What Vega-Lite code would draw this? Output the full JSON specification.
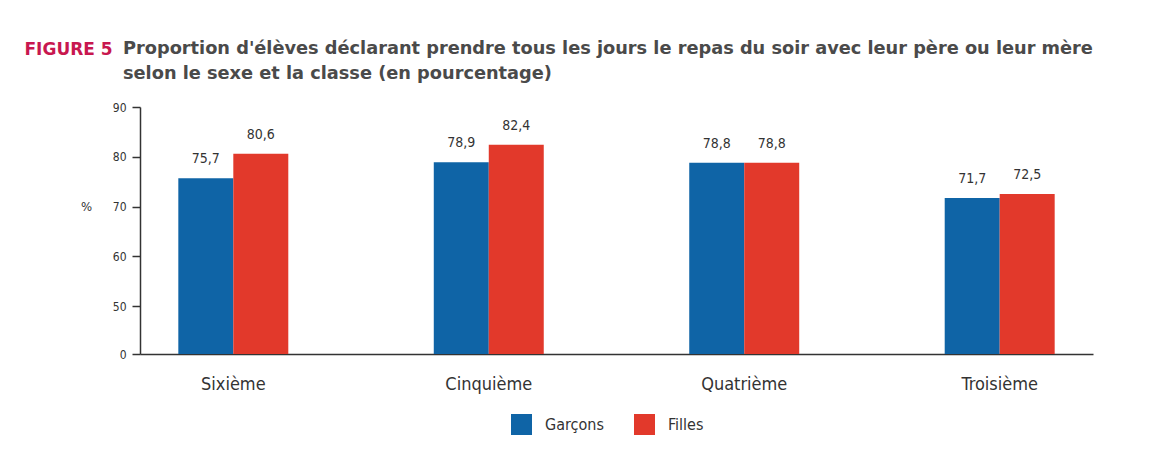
{
  "$schema": "https://vega.github.io/schema/vega-lite/v6.json",
  "width": 953,
  "height": 247,
  "autosize": {"type": "none"},
  "padding": {"left": 140, "top": 107, "right": 58, "bottom": 101},
  "background": "white",
  "title": {
    "text": ["Proportion d'élèves déclarant prendre tous les jours le repas du soir avec leur père ou leur mère", "selon le sexe et la classe (en pourcentage)"],
    "anchor": "start",
    "frame": "group",
    "dx": -17,
    "dy": 63,
    "font": "DejaVu Sans",
    "fontSize": 17.75,
    "fontWeight": "bold",
    "color": "#4a4a4a",
    "lineHeight": 25,
    "baseline": "top",
    "offset": 20
  },
  "config": {
    "locale": {"number": {"decimal": ",", "thousands": " ", "grouping": [3], "currency": ["", " €"]}},
    "view": {"stroke": null},
    "font": "DejaVu Sans Condensed"
  },
  "data": {
    "values": [
      {"classe": "Sixième", "sexe": "Garçons", "pct": 75.7},
      {"classe": "Sixième", "sexe": "Filles", "pct": 80.6},
      {"classe": "Cinquième", "sexe": "Garçons", "pct": 78.9},
      {"classe": "Cinquième", "sexe": "Filles", "pct": 82.4},
      {"classe": "Quatrième", "sexe": "Garçons", "pct": 78.8},
      {"classe": "Quatrième", "sexe": "Filles", "pct": 78.8},
      {"classe": "Troisième", "sexe": "Garçons", "pct": 71.7},
      {"classe": "Troisième", "sexe": "Filles", "pct": 72.5}
    ]
  },
  "encoding": {
    "xOffset": {"field": "sexe", "type": "nominal", "sort": ["Garçons", "Filles"], "scale": {"paddingInner": 0, "paddingOuter": 0}},
    "y": {
      "field": "pct",
      "type": "quantitative",
      "scale": {"domain": [0, 50, 90], "range": [247, 199, 0]},
      "axis": {
        "values": [0, 50, 60, 70, 80, 90],
        "title": "%",
        "titleAngle": 0,
        "titleX": -54,
        "titleY": 99,
        "titleAlign": "center",
        "titleBaseline": "middle",
        "titleFontSize": 13,
        "titleFontWeight": "normal",
        "titleColor": "#333",
        "domainColor": "#333",
        "domainWidth": 1.5,
        "tickColor": "#333",
        "tickWidth": 1.5,
        "tickSize": 8,
        "labelPadding": 6,
        "labelFontSize": 12,
        "labelColor": "#333",
        "grid": false
      }
    }
  },
  "layer": [
    {
      "mark": {"type": "bar"},
      "encoding": {
        "x": {
          "field": "classe",
          "type": "nominal",
          "sort": ["Sixième", "Cinquième", "Quatrième", "Troisième"],
          "scale": {"paddingInner": 0.5695, "paddingOuter": 0.15},
          "axis": {
            "title": null,
            "ticks": false,
            "labelAngle": 0,
            "labelPadding": 21,
            "labelFontSize": 18,
            "labelColor": "#333",
            "domainColor": "#333",
            "domainWidth": 1.5
          }
        },
        "color": {
          "field": "sexe",
          "type": "nominal",
          "sort": ["Garçons", "Filles"],
          "scale": {"domain": ["Garçons", "Filles"], "range": ["#0f64a6", "#e2392b"]},
          "legend": {
            "orient": "none",
            "legendX": 371,
            "legendY": 307,
            "direction": "horizontal",
            "title": null,
            "symbolType": "square",
            "symbolSize": 441,
            "symbolStrokeWidth": 0,
            "symbolOpacity": 1,
            "labelFontSize": 16,
            "labelColor": "#333",
            "labelOffset": 13,
            "columnPadding": 30,
            "padding": 0
          }
        }
      }
    },
    {
      "mark": {"type": "text", "baseline": "alphabetic", "dy": -15, "fontSize": 14, "color": "#333"},
      "encoding": {
        "x": {
          "field": "classe",
          "type": "nominal",
          "sort": ["Sixième", "Cinquième", "Quatrième", "Troisième"],
          "axis": {
            "orient": "top",
            "labels": false,
            "ticks": false,
            "domain": false,
            "title": "FIGURE 5",
            "titleFont": "DejaVu Sans",
            "titleFontWeight": "bold",
            "titleFontSize": 17,
            "titleColor": "#c8174f",
            "titleAlign": "left",
            "titleAnchor": "start",
            "titleX": -116,
            "titleY": -53,
            "titleBaseline": "alphabetic"
          }
        },
        "text": {"field": "pct", "type": "quantitative", "format": ".1f"}
      }
    }
  ],
  "resolve": {"axis": {"x": "independent"}}
}
